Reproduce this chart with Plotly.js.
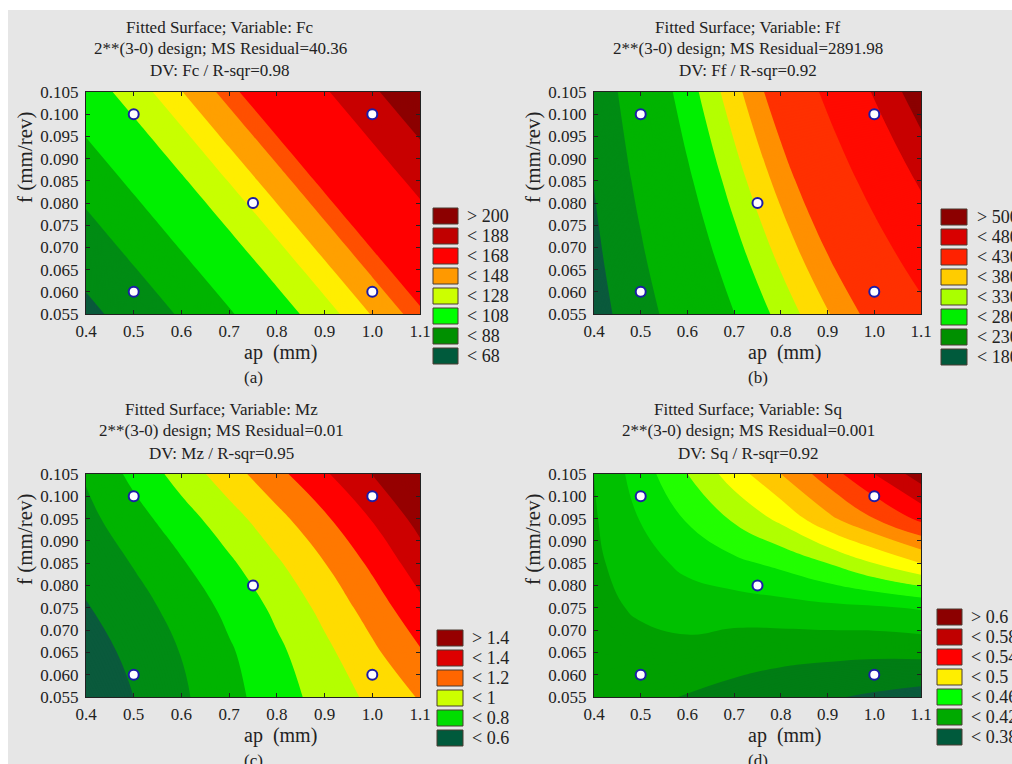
<!DOCTYPE html>
<html>
<head>
<meta charset="utf-8">
<script src="https://cdn.plot.ly/plotly-3.0.1.min.js"></script>
<style>
html,body{margin:0;padding:0;background:#ffffff;}
#chart{position:absolute;left:8px;top:10px;width:1004px;height:754px;}
</style>
</head>
<body>
<div id="chart"></div>
<script>
// ---------------- data ----------------
const apGrid = [0.4, 0.5, 0.6, 0.7, 0.8, 0.9, 1.0, 1.1];
const fGrid = [0.055, 0.065, 0.075, 0.085, 0.095, 0.105];

// fitted surface values (rows = f, columns = ap)
const fcZ = [
  [60.0, 74.3, 88.6, 102.9, 117.1, 131.4, 145.7, 160.0],
  [71.2, 85.5, 99.8, 114.1, 128.3, 142.6, 156.9, 171.2],
  [82.4, 96.7, 111.0, 125.3, 139.5, 153.8, 168.1, 182.4],
  [93.6, 107.9, 122.2, 136.5, 150.7, 165.0, 179.3, 193.6],
  [104.8, 119.1, 133.4, 147.7, 161.9, 176.2, 190.5, 204.8],
  [116.0, 130.3, 144.6, 158.9, 173.1, 187.4, 201.7, 216.0]
];
const ffZ = [
  [170.0, 202.9, 235.7, 268.6, 301.4, 334.3, 367.1, 400.0],
  [174.6, 209.9, 245.2, 280.5, 315.8, 351.1, 386.4, 421.7],
  [179.2, 216.9, 254.7, 292.4, 330.1, 367.9, 405.6, 443.3],
  [183.8, 224.0, 264.1, 304.3, 344.5, 384.7, 424.8, 465.0],
  [188.4, 231.0, 273.6, 316.2, 358.8, 401.4, 444.0, 486.7],
  [193.0, 238.1, 283.1, 328.1, 373.2, 418.2, 463.3, 508.3]
];
const mzZ = [
  [0.415, 0.500, 0.584, 0.669, 0.754, 0.839, 0.923, 1.008],
  [0.454, 0.525, 0.603, 0.687, 0.778, 0.875, 0.979, 1.090],
  [0.493, 0.560, 0.638, 0.725, 0.822, 0.929, 1.045, 1.172],
  [0.533, 0.606, 0.690, 0.783, 0.886, 0.998, 1.121, 1.253],
  [0.572, 0.661, 0.757, 0.859, 0.969, 1.084, 1.206, 1.335],
  [0.611, 0.726, 0.841, 0.956, 1.072, 1.187, 1.302, 1.417]
];
const sqZ = [
  [0.410, 0.404, 0.399, 0.394, 0.388, 0.382, 0.377, 0.372],
  [0.412, 0.413, 0.414, 0.408, 0.406, 0.405, 0.404, 0.405],
  [0.414, 0.423, 0.429, 0.430, 0.432, 0.435, 0.437, 0.442],
  [0.416, 0.432, 0.445, 0.455, 0.465, 0.480, 0.500, 0.520],
  [0.418, 0.441, 0.462, 0.483, 0.505, 0.535, 0.560, 0.585],
  [0.420, 0.450, 0.480, 0.510, 0.540, 0.570, 0.600, 0.630]
];

// contour level boundaries seen in each plot (band colours are in the styling section)
const fcLevels = [65.7, 86.6, 104.6, 124, 136, 145, 155, 162, 189, 204];
const ffLevels = [182.6, 216, 269, 294, 315, 336, 357, 410, 460, 490];
const mzLevels = [0.5, 0.6, 0.7, 0.8, 0.9, 1.0, 1.1, 1.2, 1.3];
const sqLevels = [0.38, 0.40, 0.42, 0.44, 0.46, 0.48, 0.50, 0.52, 0.54, 0.56, 0.58, 0.60, 0.62];

// design points
const designAp = [0.5, 1.0, 0.75, 0.5, 1.0];
const designF = [0.06, 0.06, 0.08, 0.1, 0.1];

// tick labels
const apTicks = [0.4, 0.5, 0.6, 0.7, 0.8, 0.9, 1.0, 1.1];
const apTickText = ['0.4', '0.5', '0.6', '0.7', '0.8', '0.9', '1.0', '1.1'];
const fTicks = [0.055, 0.06, 0.065, 0.07, 0.075, 0.08, 0.085, 0.09, 0.095, 0.1, 0.105];
const fTickText = ['0.055', '0.060', '0.065', '0.070', '0.075', '0.080', '0.085', '0.090', '0.095', '0.100', '0.105'];

// titles
const fcTitle = ['Fitted Surface; Variable: Fc', '2**(3-0) design; MS Residual=40.36', 'DV: Fc / R-sqr=0.98'];
const ffTitle = ['Fitted Surface; Variable: Ff', '2**(3-0) design; MS Residual=2891.98', 'DV: Ff / R-sqr=0.92'];
const mzTitle = ['Fitted Surface; Variable: Mz', '2**(3-0) design; MS Residual=0.01', 'DV: Mz / R-sqr=0.95'];
const sqTitle = ['Fitted Surface; Variable: Sq', '2**(3-0) design; MS Residual=0.001', 'DV: Sq / R-sqr=0.92'];

// legends
const fcLegend = ['> 200', '< 188', '< 168', '< 148', '< 128', '< 108', '< 88', '< 68'];
const ffLegend = ['> 500', '< 480', '< 430', '< 380', '< 330', '< 280', '< 230', '< 180'];
const mzLegend = ['> 1.4', '< 1.4', '< 1.2', '< 1', '< 0.8', '< 0.6'];
const sqLegend = ['> 0.6', '< 0.58', '< 0.54', '< 0.5', '< 0.46', '< 0.42', '< 0.38'];
const fcLegendColors = ['#8c0000', '#c00000', '#ff0000', '#ff9900', '#ccff00', '#00ff00', '#009000', '#005a3c'];
const ffLegendColors = ['#8c0000', '#d80000', '#ff2200', '#ffcc00', '#aaff00', '#00ee00', '#009000', '#005a3c'];
const mzLegendColors = ['#960000', '#dd0000', '#ff6600', '#ccff00', '#00dd00', '#005a3c'];
const sqLegendColors = ['#8c0000', '#c00000', '#ff0000', '#ffee00', '#00ff00', '#00aa00', '#005a3c'];

// ---------------- styling ----------------
const FONT = 'Liberation Serif';
const TXT = '#222222';
const fcBands = ['#0a5a3c', '#008c14', '#00b400', '#00f000', '#c8ff00', '#ffee00', '#ffa000', '#ff5000', '#ff0000', '#c80000', '#8c0000'];
const ffBands = ['#0a5a3c', '#008c14', '#00b400', '#00f000', '#b4ff00', '#ffdc00', '#ff9000', '#ff3000', '#ff0a00', '#c80000', '#8c0000'];
const mzBands = ['#0a5a3c', '#008c14', '#00b400', '#00f000', '#b4ff00', '#ffdc00', '#ff7800', '#ff0000', '#cd0000', '#960000'];
const sqBands = ['#0a5a3c', '#007d14', '#00a000', '#00c000', '#00e000', '#22ff00', '#b0ff00', '#ffff00', '#ffc800', '#ff8c00', '#ff4000', '#ff0000', '#c80000', '#960000'];

const W = 1004, H = 754, OX = 8, OY = 10;
const px = X => (X - OX) / W;
const py = Y => 1 - (Y - OY) / H;

// fine contour levels; each fine band takes the colour of the band it falls in
function fineScale(start, end, size, th, cols) {
  const nc = Math.floor((end - start) / size + 1e-6) + 1;
  const out = [];
  for (let i = 0; i <= nc; i++) {
    const mid = start + (i - 0.5) * size;
    let k = 0;
    while (k < th.length && mid > th[k]) k++;
    out.push([i / nc, cols[k]]);
  }
  return out;
}

const panels = [
  {z: fcZ, lev: [50, 230, 0.5], th: fcLevels, bands: fcBands, title: fcTitle, legend: fcLegend, legendColors: fcLegendColors,
   x0: 86, x1: 420, y0: 92, y1: 314, tx: 220, lg: [433, 458, 208, 465], lab: '(a)'},
  {z: ffZ, lev: [160, 530, 1], th: ffLevels, bands: ffBands, title: ffTitle, legend: ffLegend, legendColors: ffLegendColors,
   x0: 594, x1: 921, y0: 92, y1: 314, tx: 748, lg: [941, 967, 209, 975], lab: '(b)'},
  {z: mzZ, lev: [0.4, 1.45, 0.005], th: mzLevels, bands: mzBands, title: mzTitle, legend: mzLegend, legendColors: mzLegendColors,
   x0: 86, x1: 420, y0: 474, y1: 697, tx: 221, lg: [437, 463, 630, 470], lab: '(c)'},
  {z: sqZ, lev: [0.36, 0.64, 0.001], th: sqLevels, bands: sqBands, title: sqTitle, legend: sqLegend, legendColors: sqLegendColors,
   x0: 594, x1: 921, y0: 474, y1: 697, tx: 748, lg: [937, 962, 609, 969], lab: '(d)'}
];

const traces = [];
const layout = {
  width: W, height: H,
  margin: {l: 0, r: 0, t: 0, b: 0},
  paper_bgcolor: '#e6e6e6',
  plot_bgcolor: '#e6e6e6',
  showlegend: false,
  font: {family: FONT, color: TXT},
  annotations: [],
  shapes: []
};

function ann(text, X, Y, size, xanchor, angle) {
  const a = {text: text, xref: 'paper', yref: 'paper', x: px(X), y: py(Y),
    xanchor: xanchor || 'center', yanchor: 'middle', showarrow: false,
    font: {family: FONT, size: size, color: TXT}};
  if (angle) a.textangle = angle;
  layout.annotations.push(a);
}

panels.forEach((p, i) => {
  const n = i + 1;
  const xa = n === 1 ? 'x' : 'x' + n;
  const ya = n === 1 ? 'y' : 'y' + n;
  traces.push({
    type: 'contour', x: apGrid, y: fGrid, z: p.z, xaxis: xa, yaxis: ya,
    autocontour: false,
    contours: {coloring: 'fill', start: p.lev[0], end: p.lev[1], size: p.lev[2], showlines: false},
    line: {width: 0, smoothing: 1.3},
    colorscale: fineScale(p.lev[0], p.lev[1], p.lev[2], p.th, p.bands),
    showscale: false, hoverinfo: 'skip'
  });
  traces.push({
    type: 'scatter', mode: 'markers', x: designAp, y: designF, xaxis: xa, yaxis: ya,
    marker: {size: 10, color: '#ffffff', line: {color: '#1c1ca8', width: 2}},
    hoverinfo: 'skip', cliponaxis: false
  });
  const common = {
    ticks: 'inside', ticklen: 4, tickcolor: TXT, tickwidth: 1,
    showline: true, mirror: 'ticks', linecolor: TXT, linewidth: 1,
    showgrid: false, zeroline: false, fixedrange: true,
    tickfont: {family: FONT, size: 17, color: TXT}
  };
  layout[n === 1 ? 'xaxis' : 'xaxis' + n] = Object.assign({}, common, {
    domain: [px(p.x0), px(p.x1)], anchor: ya, range: [0.4, 1.1],
    tickmode: 'array', tickvals: apTicks, ticktext: apTickText, ticklabelstandoff: 2
  });
  layout[n === 1 ? 'yaxis' : 'yaxis' + n] = Object.assign({}, common, {
    domain: [py(p.y1), py(p.y0)], anchor: xa, range: [0.055, 0.105],
    tickmode: 'array', tickvals: fTicks, ticktext: fTickText, ticklabelstandoff: 3
  });
  // titles
  p.title.forEach((t, k) => ann(t, p.tx, p.y0 - 65 + 22 * k, 17, 'center'));
  // axis titles
  ann('ap\u00a0\u00a0(mm)', (p.x0 + p.x1) / 2 + 27, p.y1 + 38, 20, 'center');
  ann('f\u00a0(mm/rev)', p.x0 - 61, p.y0 + 65, 21, 'center', -90);
  ann(p.lab, (p.x0 + p.x1) / 2, p.y1 + 63, 17, 'center');
  // legend
  const [bx0, bx1, top, tx] = p.lg;
  p.legend.forEach((lbl, k) => {
    const yt = top + 20 * k;
    layout.shapes.push({type: 'rect', xref: 'paper', yref: 'paper',
      x0: px(bx0), x1: px(bx1), y0: py(yt + 16), y1: py(yt),
      fillcolor: p.legendColors[k], line: {color: '#4a3a30', width: 1}});
    ann(lbl, tx, yt + 8, 18, 'left');
  });
});

Plotly.newPlot('chart', traces, layout, {staticPlot: true});
</script>
</body>
</html>
